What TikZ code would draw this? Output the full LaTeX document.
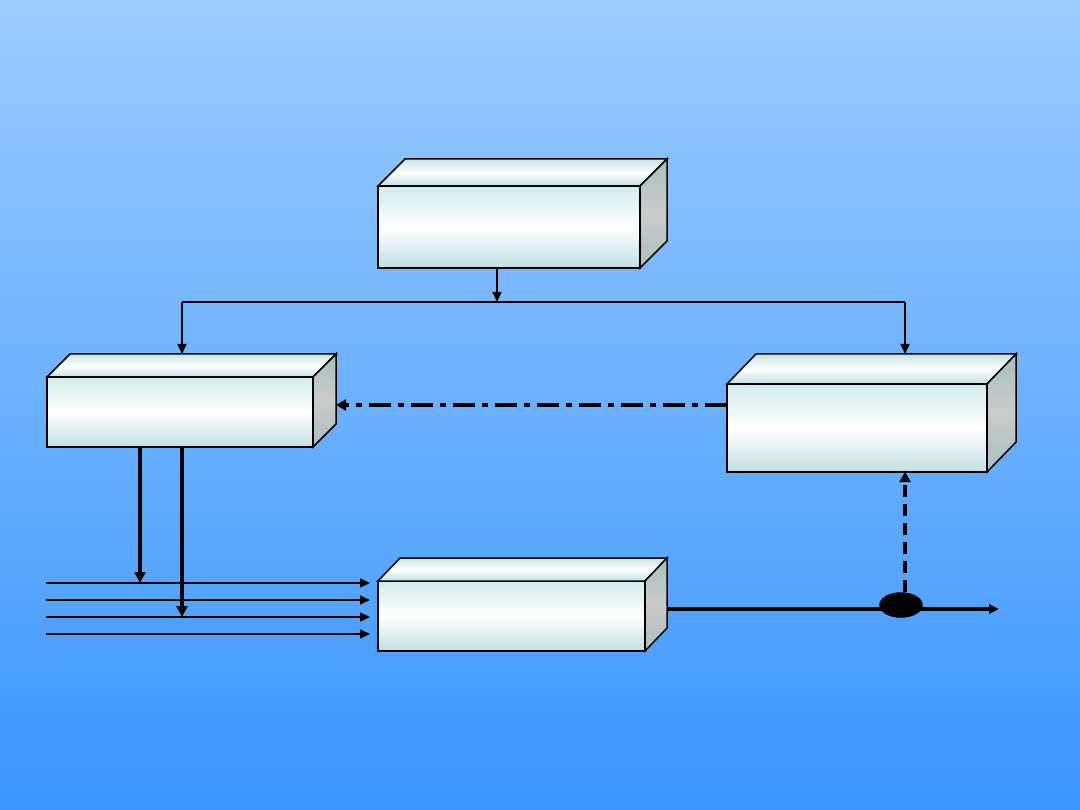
\documentclass[tikz,border=0pt]{standalone}
\usetikzlibrary{arrows.meta,calc,shapes.geometric}
\definecolor{bgtop}{HTML}{9BCBFE}
\definecolor{bgbot}{HTML}{3A96FE}
\definecolor{facetop}{HTML}{D2ECEC}
\definecolor{facebot}{HTML}{C0E0E2}
\definecolor{sidetop}{HTML}{A8BEBE}
\definecolor{sidemid}{HTML}{CBCBCB}
\tikzset{
  front/.style={rectangle, draw=black, line width=1.5pt, inner sep=0pt, outer sep=0pt,
    top color=facetop, bottom color=facebot, middle color=white},
  topface/.style={draw=black, line width=1.5pt, line join=miter,
    top color=facetop!90!gray, bottom color=facebot, middle color=white},
  sideface/.style={draw=black, line width=1.5pt, line join=miter,
    top color=sidetop, bottom color=sidetop, middle color=sidemid},
  thin/.style={line width=1.6pt, -{Triangle[length=10pt,width=9pt]}},
  thinline/.style={line width=1.6pt},
  thick/.style={line width=3.3pt, -{Triangle[length=11pt,width=11pt]}},
  dashdot/.style={line width=3.5pt, dash pattern=on 22pt off 7pt on 6pt off 7pt, -{Triangle[length=10pt,width=11pt]}},
  dashv/.style={line width=3.2pt, dash pattern=on 12pt off 7pt, -{Triangle[length=10pt,width=11pt]}},
  outline/.style={line width=3.3pt, -{Triangle[length=10pt,width=9pt]}},
  junction/.style={ellipse, fill=black, draw=black, minimum width=43pt, minimum height=25pt, inner sep=0pt}
}
\newcommand{\cuboid}[7]{%
  \node[front, minimum width=#4pt, minimum height=#5pt, anchor=north west] (#1) at (#2,#3) {};
  \path[topface] (#1.north west) -- ++(#6,-#7) -- ($(#1.north east)+(#6,-#7)$) -- (#1.north east) -- cycle;
  \path[sideface] (#1.north east) -- ++(#6,-#7) -- ($(#1.south east)+(#6,-#7)$) -- (#1.south east) -- cycle;
  \coordinate (#1back) at ($(#1.north)+(#6,-#7)$);
}
\begin{document}
\begin{tikzpicture}[x=1pt,y=-1pt]
\useasboundingbox (0,0) rectangle (1080,810);
\fill[top color=bgtop, bottom color=bgbot] (0,0) rectangle (1080,810);

% boxes
\cuboid{top}{378}{186}{262}{82}{27}{27}
\cuboid{lft}{47}{377}{266}{70}{23}{23}
\cuboid{rgt}{727}{384}{260}{88}{29}{30}
\cuboid{bot}{378}{581}{267}{70}{22}{23}

% top distribution
\coordinate (split) at (497,302);
\coordinate (sl) at (182,302);
\coordinate (sr) at (905,302);
\draw[thin] (top.south -| split) -- (split);
\draw[thinline] (sl) -- (sr);
\draw[thin] (sl) -- (sl |- lftback);
\draw[thin] (sr) -- (sr |- rgtback);

% feedback dash-dot from right box to left box
\draw[dashdot] (rgt.west |- 0,405) -- (336,405);

% input lines
\coordinate (in1) at (46,583);
\coordinate (in2) at (46,600);
\coordinate (in3) at (46,617);
\coordinate (in4) at (46,634);
\draw[thin] (in1) -- (370,583);
\draw[thin] (in2) -- (370,600);
\draw[thin] (in3) -- (370,617);
\draw[thin] (in4) -- (370,634);

% control arrows from left box
\draw[thick] (lft.south -| 140,0) -- (in1 -| 140,0);
\draw[thick] (lft.south -| 182,0) -- (in3 -| 182,0);

% output line and junction
\coordinate (out) at (999,609);
\draw[outline] (667,609) -- (out);
\node[junction] (junc) at (901,605) {};

% measurement feedback (dashed)
\draw[dashv] (junc.north -| 905,0) -- (rgt.south -| 905,0);
\end{tikzpicture}
\end{document}
